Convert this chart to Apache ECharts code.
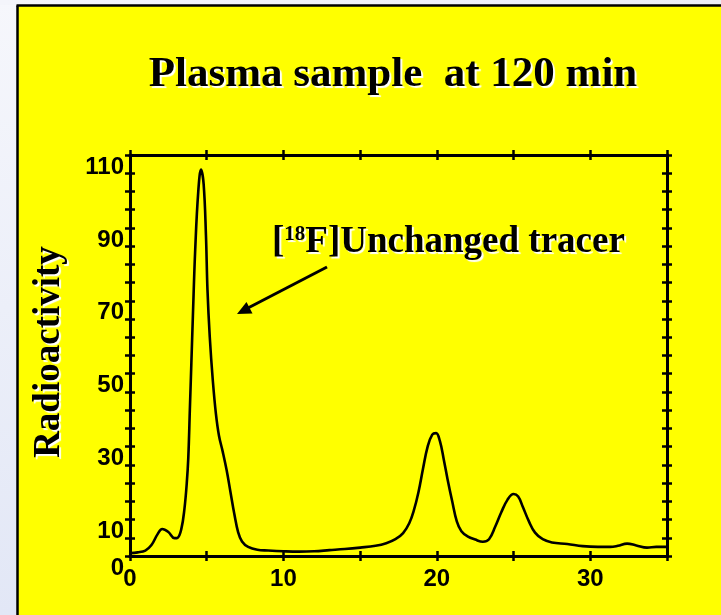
<!DOCTYPE html>
<html>
<head>
<meta charset="utf-8">
<script src="https://cdn.jsdelivr.net/npm/echarts@6/dist/echarts.min.js"></script>
<style>
html,body{margin:0;padding:0;background:#f2f4fb;}
#chart{width:721px;height:615px;}
</style>
</head>
<body>
<div id="chart"></div>
<script>
// Retention time (min)
const times = [0, 0.5, 1.0, 1.4, 1.8, 2.1, 2.5, 2.9, 3.1, 3.35, 3.55, 3.7, 3.8, 3.9, 4.0, 4.1, 4.25, 4.45, 4.63, 4.8, 4.95, 5.05, 5.2, 5.4, 5.6, 5.8, 6.05, 6.3, 6.55, 6.8, 7.05, 7.3, 7.7, 8.3, 9, 10, 11, 12, 13, 14, 15, 16, 16.7, 17.3, 17.8, 18.2, 18.5, 18.8, 19.1, 19.4, 19.7, 19.95, 20.2, 20.45, 20.7, 21.0, 21.3, 21.6, 22.0, 22.5, 23.0, 23.4, 23.8, 24.2, 24.6, 25.0, 25.3, 25.6, 26.0, 26.4, 26.9, 27.5, 28.5, 29.5, 30.5, 31.3, 31.8, 32.4, 33.0, 33.7, 34.3, 35.0, 35.4];
// Radioactivity
const activity = [0.8, 1.0, 1.5, 3.0, 6.0, 7.4, 6.6, 4.9, 5.0, 7.5, 13, 20, 27, 40, 53, 66, 84, 100, 106, 102, 88, 73, 60, 48, 39, 33, 28.5, 23.5, 17.5, 11.5, 6.5, 4.0, 2.5, 1.7, 1.5, 1.3, 1.2, 1.3, 1.6, 1.9, 2.3, 2.8, 3.5, 4.6, 6.3, 9.0, 12.5, 17.5, 24, 30, 33.3, 33.7, 31.5, 26.5, 21, 15, 9.5, 6.8, 5.4, 4.5, 3.9, 4.6, 8, 12, 15.4, 17.0, 16.3, 13.5, 9.5, 6.4, 4.6, 3.7, 3.3, 2.7, 2.5, 2.5, 2.8, 3.4, 2.9, 2.3, 2.5, 2.5, 1.7];
const xTicks = [0, 10, 20, 30];
const yTicks = [0, 10, 30, 50, 70, 90, 110];

const titleText = 'Plasma sample  at 120 min';
const yTitle = 'Radioactivity';
const annotation = '{a|[}{s|18}{a|F]Unchanged tracer}';

const chart = echarts.init(document.getElementById('chart'));
const tickStyle = {color: '#000', width: 2.5};
const lineStyleAx = {color: '#000', width: 3};
const labelFont = {fontFamily: 'Liberation Sans', fontWeight: 'bold', fontSize: 24, color: '#000'};

function xAx(pos, inside, labels) {
  return {
    type: 'value', position: pos, min: 0, max: 35, interval: 5,
    axisLine: {show: true, onZero: false, lineStyle: lineStyleAx},
    axisTick: {show: true, inside: inside, length: 5, lineStyle: tickStyle},
    splitLine: {show: false},
    axisLabel: labels ? Object.assign({
      show: true, margin: 11, showMinLabel: true, showMaxLabel: true,
      formatter: v => xTicks.includes(v) ? String(v) : ''
    }, labelFont) : {show: false}
  };
}
function yAx(pos, inside, labels) {
  return {
    type: 'value', position: pos, min: 0, max: 110, interval: 5,
    axisLine: {show: true, onZero: false, lineStyle: lineStyleAx},
    axisTick: {show: true, inside: inside, length: 5, lineStyle: tickStyle},
    splitLine: {show: false},
    axisLabel: labels ? Object.assign({
      show: true, margin: 6, verticalAlign: 'top', showMinLabel: true, showMaxLabel: true,
      formatter: v => yTicks.includes(v) ? String(v) : ''
    }, labelFont) : {show: false}
  };
}

const serif = {fontFamily: 'Liberation Serif', fontWeight: 'bold', fill: '#000',
  textShadowColor: '#ffffff', textShadowBlur: 1, textShadowOffsetX: 2, textShadowOffsetY: 2};

chart.setOption({
  backgroundColor: '#ffff00',
  animation: false,
  grid: {left: 130, right: 54, top: 155, bottom: 59, containLabel: false},
  xAxis: [xAx('bottom', true, true), xAx('bottom', false, false), xAx('top', true, false), xAx('top', false, false)],
  yAxis: [yAx('left', true, true), yAx('left', false, false), yAx('right', true, false), yAx('right', false, false)],
  series: [{
    type: 'line',
    data: times.map((t, i) => [t, activity[i]]),
    xAxisIndex: 0, yAxisIndex: 0,
    smooth: 0.4,
    symbol: 'none', clip: false,
    lineStyle: {color: '#000', width: 2.6}
  }],
  graphic: [
    {type: 'rect', shape: {x: 0, y: 0, width: 17, height: 615}, z: 100,
      style: {fill: new echarts.graphic.LinearGradient(0, 0, 0, 1, [{offset: 0, color: '#f6f7fc'}, {offset: 1, color: '#e2e7f6'}])}},
    {type: 'rect', shape: {x: 0, y: 0, width: 721, height: 5}, z: 100,
      style: {fill: new echarts.graphic.LinearGradient(0, 0, 1, 0, [{offset: 0, color: '#f4f5fb'}, {offset: 1, color: '#eceef6'}])}},
    {type: 'line', shape: {x1: 17.5, y1: 5.5, x2: 17.5, y2: 615}, z: 101, style: {stroke: '#000', lineWidth: 2.5}},
    {type: 'line', shape: {x1: 16.5, y1: 5.5, x2: 721, y2: 5.5}, z: 101, style: {stroke: '#000', lineWidth: 2.5}},
    {type: 'text', x: 393, y: 75, z: 100,
      style: Object.assign({text: titleText, fontSize: 43, align: 'center', verticalAlign: 'middle'}, serif)},
    {type: 'text', x: 49, y: 352, rotation: Math.PI / 2, z: 100,
      style: Object.assign({text: yTitle, fontSize: 37, align: 'center', verticalAlign: 'middle'}, serif)},
    {type: 'text', x: 272, y: 241, z: 100,
      style: {text: annotation, align: 'left', verticalAlign: 'middle',
        rich: {
          a: Object.assign({fontSize: 37, lineHeight: 40, verticalAlign: 'bottom'}, serif),
          s: Object.assign({fontSize: 21, lineHeight: 40, verticalAlign: 'top', padding: [3, 0, 0, 0]}, serif)
        }}},
    {type: 'line', shape: {x1: 327, y1: 267, x2: 247, y2: 308.5}, z: 100, style: {stroke: '#000', lineWidth: 3}},
    {type: 'polygon', shape: {points: [[237, 314], [252.5, 313.5], [246.5, 302]]}, z: 100, style: {fill: '#000'}}
  ]
});
</script>
</body>
</html>
